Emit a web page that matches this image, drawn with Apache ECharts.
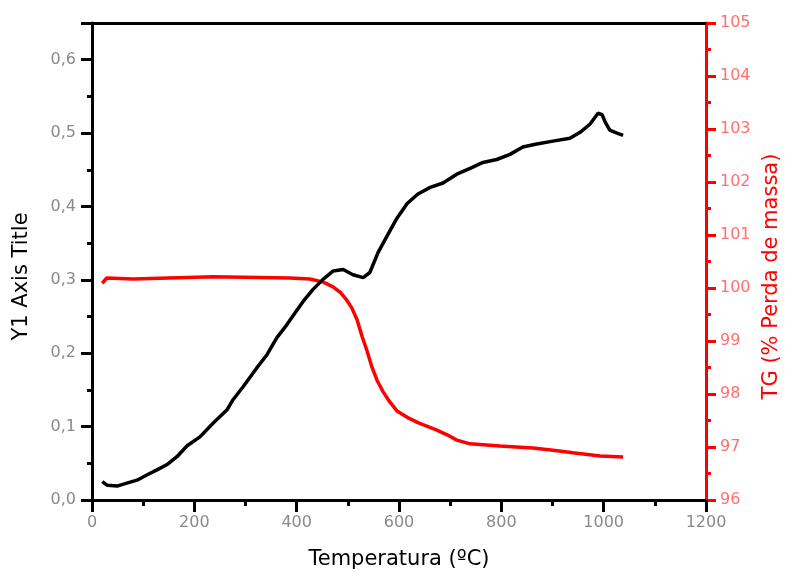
<!DOCTYPE html>
<html>
<head>
<meta charset="utf-8">
<script src="https://cdn.jsdelivr.net/npm/echarts@6/dist/echarts.min.js"></script>
<style>html,body{margin:0;padding:0;background:#fff;}#c{width:789px;height:574px;}</style>
</head>
<body>
<div id="c"></div>
<script>
// Black curve (left axis)
const tempBlack = [20,30,49,68,88,107,127,146,166,186,211,237,264,276,295,322,342,361,381,397,413,432,452,471,491,510,530,543,559,576,596,616,637,661,686,713,739,764,791,817,842,869,901,934,954,973,989,997,1003,1012,1026,1038];
const valBlack  = [0.025,0.020,0.019,0.023,0.027,0.034,0.041,0.048,0.059,0.074,0.086,0.105,0.123,0.137,0.154,0.180,0.198,0.221,0.239,0.255,0.271,0.287,0.301,0.312,0.314,0.307,0.303,0.310,0.337,0.359,0.384,0.404,0.417,0.426,0.432,0.444,0.452,0.460,0.464,0.471,0.481,0.485,0.489,0.493,0.501,0.512,0.527,0.525,0.515,0.504,0.500,0.497];
// Red curve (right axis, TG %)
const tempRed = [20,29,80,237,387,426,452,471,485,498,508,518,528,537,547,557,569,582,596,616,637,647,674,694,713,739,797,862,901,940,993,1038];
const valRed  = [100.09,100.19,100.17,100.21,100.19,100.17,100.11,100.02,99.92,99.77,99.62,99.40,99.08,98.83,98.51,98.26,98.04,97.85,97.68,97.56,97.46,97.42,97.32,97.23,97.13,97.06,97.02,96.98,96.94,96.89,96.83,96.81];
// Axis settings
const xTicks = {min:0, max:1200, interval:200};
const yLeft = {min:0, max:0.65, interval:0.1};
const yRight = {min:96, max:105, interval:1};

const blackData = tempBlack.map((t,i)=>[t,valBlack[i]]);
const redData = tempRed.map((t,i)=>[t,valRed[i]]);

const labelFont = {fontFamily:'DejaVu Sans', fontSize:16};
const titleFont = {fontFamily:'DejaVu Sans', fontSize:21};
const chart = echarts.init(document.getElementById('c'));
chart.setOption({
  animation:false,
  backgroundColor:'#fff',
  grid:{left:92, right:83, top:23, bottom:74, containLabel:false, outerBoundsMode:'none'},
  xAxis:[{
    type:'value', position:'bottom', min:xTicks.min, max:xTicks.max, interval:xTicks.interval,
    name:'Temperatura (ºC)', nameLocation:'middle', nameGap:49,
    nameTextStyle:Object.assign({color:'#000'}, titleFont),
    axisLine:{show:true, onZero:false, lineStyle:{color:'#000', width:3}},
    axisTick:{show:true, inside:false, length:12, lineStyle:{color:'#000', width:3}},
    minorTick:{show:true, splitNumber:2, length:6, lineStyle:{color:'#000', width:3}},
    splitLine:{show:false},
    axisLabel:Object.assign({color:'#8a8a8a', margin:15, formatter:v=>String(v)}, labelFont)
  },{
    type:'value', position:'top', min:xTicks.min, max:xTicks.max,
    axisLine:{show:true, onZero:false, lineStyle:{color:'#000', width:3}},
    axisTick:{show:false}, axisLabel:{show:false}, splitLine:{show:false}
  }],
  yAxis:[{
    type:'value', position:'left', min:yLeft.min, max:yLeft.max, interval:yLeft.interval,
    name:'Y1 Axis Title', nameLocation:'middle', nameGap:60, nameRotate:90,
    nameTextStyle:Object.assign({color:'#000', padding:[0,30,0,0]}, titleFont),
    axisLine:{show:true, onZero:false, lineStyle:{color:'#000', width:3}},
    axisTick:{show:true, inside:false, length:11, lineStyle:{color:'#000', width:3}},
    minorTick:{show:true, splitNumber:2, length:5, lineStyle:{color:'#000', width:3}},
    splitLine:{show:false},
    axisLabel:Object.assign({color:'#8a8a8a', margin:16, showMaxLabel:false, formatter:v=>v.toFixed(1).replace('.',',')}, labelFont)
  },{
    type:'value', position:'right', min:yRight.min, max:yRight.max, interval:yRight.interval,
    name:'TG (% Perda de massa)', nameLocation:'middle', nameGap:55, nameRotate:90,
    nameTextStyle:Object.assign({color:'#ff0000', padding:[0,30,0,0]}, titleFont),
    axisLine:{show:true, onZero:false, lineStyle:{color:'#ff0000', width:3}},
    axisTick:{show:true, inside:false, length:10, lineStyle:{color:'#ff0000', width:3}},
    minorTick:{show:true, splitNumber:2, length:5, lineStyle:{color:'#ff0000', width:3}},
    splitLine:{show:false},
    axisLabel:Object.assign({color:'#ff7070', margin:14}, labelFont)
  }],
  series:[{
    type:'line', xAxisIndex:0, yAxisIndex:0, data:blackData, showSymbol:false,
    lineStyle:{color:'#000', width:3.5}, z:3
  },{
    type:'line', xAxisIndex:0, yAxisIndex:1, data:redData, showSymbol:false,
    lineStyle:{color:'#ff0000', width:3.5}, z:2
  }]
});
</script>
</body>
</html>
